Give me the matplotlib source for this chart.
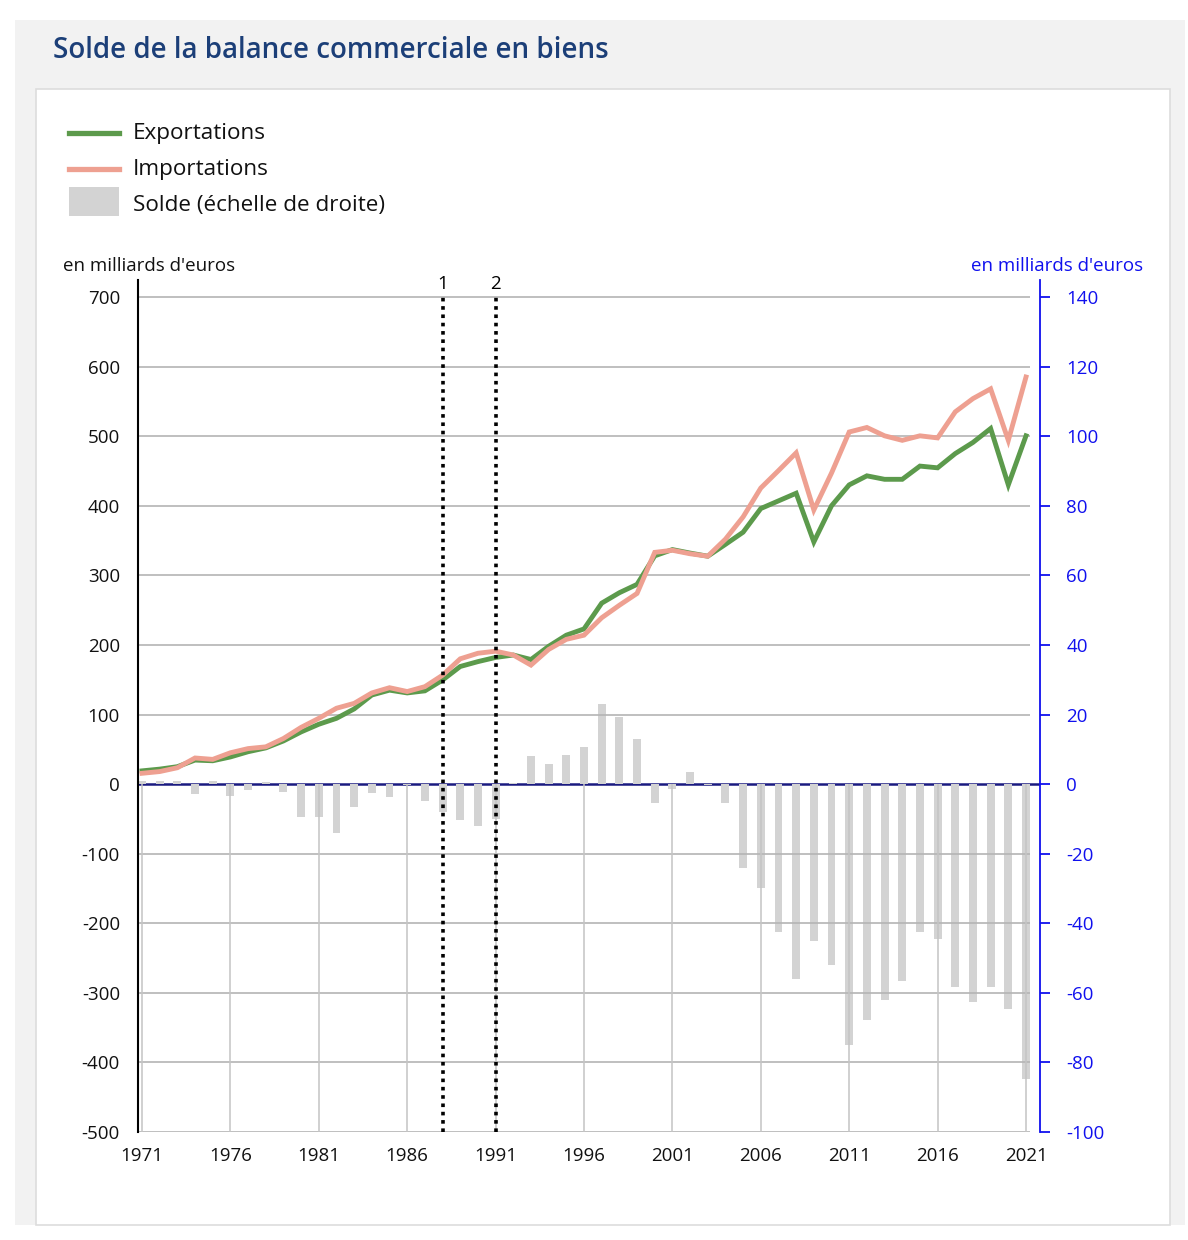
import matplotlib
matplotlib.use("Agg")
import matplotlib.pyplot as plt
from matplotlib.patches import Rectangle
from matplotlib.lines import Line2D

plt.rcParams['font.family'] = ['Open Sans', 'DejaVu Sans']
plt.rcParams['axes.unicode_minus'] = False

# ---------------- data ----------------
years = list(range(1971, 2022))
exports = [19, 21.5, 25, 34.5, 33.5, 39, 46.5, 52, 62, 75,
           86, 94.5, 108, 128, 135, 131, 134, 149.5, 169, 176,
           182, 185.5, 179, 198, 214, 223, 260, 275, 287, 328,
           337, 332, 327.5, 344.5, 362, 396, 407, 418, 348, 400,
           430, 443, 438, 438, 457, 454.5, 475, 491, 511, 430,
           500.5]
imports = [15.5, 18, 23.5, 37.5, 35.5, 45, 51, 53.5, 65.5, 81.5,
           94.5, 109, 116, 131, 138.5, 133, 140, 156.5, 180, 188,
           191, 185.5, 171, 193.5, 208, 214, 239, 257, 274, 333,
           336, 331, 327.5, 352, 384, 425.5, 450.5, 476, 394, 447,
           506, 512.5, 500.5, 494, 500.5, 497.5, 535, 554, 568, 494,
           585]
solde = [1, 1, 1, -2.9, 1, -3.4, -1.6, 0.5, -2.2, -9.4,
         -9.4, -14.2, -6.5, -2.7, -3.8, -0.2, -4.9, -8.1, -10.3, -12,
         -9.9, 0.3, 8, 5.7, 8.4, 10.7, 23, 19.2, 12.9, -5.5,
         -1.4, 3.5, -0.3, -5.5, -24, -30, -42.4, -55.9, -45, -52,
         -75, -67.9, -62, -56.5, -42.4, -44.6, -58.3, -62.6, -58.3, -64.7,
         -84.8]
series_names = ["Exportations", "Importations", "Solde (échelle de droite)"]
left_ticks = [700, 600, 500, 400, 300, 200, 100, 0, -100, -200, -300, -400, -500]
right_ticks = [140, 120, 100, 80, 60, 40, 20, 0, -20, -40, -60, -80, -100]
x_ticks = list(range(1971, 2022, 5))
events = [1988, 1991]
event_labels = ["1", "2"]
title = "Solde de la balance commerciale en biens"
unit_label = "en milliards d'euros"

# ---------------- style ----------------
GREEN = "#5c9a4c"
PINK = "#eea091"
BAR = "#d3d3d3"
BLUE = "#1010ee"
GRID = "#b4b4b4"

W, H = 1188, 1240
fig = plt.figure(figsize=(W / 100, H / 100), dpi=100)
fig.patch.set_facecolor("white")


def px(x, y):
    return (x / W, 1 - y / H)


# panels
x0, y0 = px(15, 1225)
fig.add_artist(Rectangle((x0, y0), (1185 - 15) / W, (1225 - 20) / H,
                         transform=fig.transFigure, facecolor="#f2f2f2",
                         edgecolor="none", zorder=-3))
x0, y0 = px(36, 1225)
fig.add_artist(Rectangle((x0, y0), (1170 - 36) / W, (1225 - 89) / H,
                         transform=fig.transFigure, facecolor="white",
                         edgecolor="#dddddd", lw=1.2, zorder=-2))

# title
fig.text(*px(53, 50), title, color="#1c3f78", fontsize=20,
         ha="left", va="center", fontweight="semibold")

# legend (manual)
for (yy, col) in [(133, GREEN), (169, PINK)]:
    fig.add_artist(Line2D([69 / W, 119 / W], [1 - yy / H, 1 - yy / H],
                          color=col, lw=3.8, transform=fig.transFigure))
rx, ry = px(69, 216)
fig.add_artist(Rectangle((rx, ry), 50 / W, 29 / H, transform=fig.transFigure,
                         facecolor=BAR, edgecolor="none"))
for yy, name in zip([134, 170, 205], series_names):
    fig.text(*px(133, yy), name, fontsize=16.2, ha="left", va="center",
             color="#111111")

# axes geometry
left, right = 138, 1040
top, bottom = 280, 1132
ax2 = fig.add_axes([left / W, 1 - bottom / H, (right - left) / W, (bottom - top) / H])
ax = ax2.twinx()
ax.yaxis.tick_left()
ax2.yaxis.tick_right()
ax2.set_zorder(1)
ax.set_zorder(2)
ax.patch.set_visible(False)
ax2.patch.set_visible(False)

xmin = 1971 - 4 / 17.68
xmax = xmin + (right - left) / 17.68
ymax_left = 700 + (297 - top) / 0.6958
ax.set_xlim(xmin, xmax)
ax2.set_xlim(xmin, xmax)
ax.set_ylim(-500, ymax_left)
ax2.set_ylim(-100, ymax_left / 5)

# bars (right scale)
ax2.axhline(0, color="#1a1a80", lw=1.8, zorder=1)
ax2.bar(years, solde, width=0.45, color=BAR, zorder=2)

# gridlines (zero line handled separately)
grid_end = 2021 + 4 / 17.68
ax.hlines([v for v in left_ticks if v != 0], xmin, grid_end, color=GRID, lw=1.2, zorder=1)
ax.vlines(x_ticks, -500, 0, color="#c4c4c4", lw=1.1, zorder=1)

# lines
ax.plot(years, exports, color=GREEN, lw=3.5, zorder=3, solid_joinstyle="miter")
ax.plot(years, imports, color=PINK, lw=3.5, zorder=4, solid_joinstyle="miter")

# event dotted lines
for ev, lab in zip(events, event_labels):
    ax.vlines(ev, -500, 704, color="black", lw=2.6, linestyles=(0, (1, 1.3)), zorder=5)
    ax.text(ev, 719, lab, ha="center", va="center", fontsize=13.5, color="black")

# spines
for s in ["top", "right", "bottom"]:
    ax.spines[s].set_visible(False)
ax.spines["left"].set_color("black")
ax.spines["left"].set_linewidth(1.5)
for s in ["top", "left", "bottom"]:
    ax2.spines[s].set_visible(False)
ax2.spines["right"].set_color(BLUE)
ax2.spines["right"].set_linewidth(1.3)

# ticks
ax.set_yticks(left_ticks)
ax.set_yticklabels([str(v) for v in left_ticks])
ax.tick_params(axis="y", length=0, pad=13, labelsize=13.5, labelcolor="#111111")
ax.set_xticks(x_ticks)
ax.tick_params(axis="x", length=0, labelbottom=False)
ax2.set_xticks(x_ticks)
ax2.set_xticklabels([str(v) for v in x_ticks])
ax2.tick_params(axis="x", length=0, pad=11, labelsize=13.5, labelcolor="#111111")
ax2.set_yticks(right_ticks)
ax2.set_yticklabels([str(v) for v in right_ticks])
ax2.tick_params(axis="y", length=7, width=1.3, color=BLUE, pad=12,
                labelsize=13.5, labelcolor=BLUE)

# unit labels
fig.text(*px(63, 266), unit_label, fontsize=13.5, ha="left", va="center", color="#111111")
fig.text(*px(1143, 266), unit_label, fontsize=13.5, ha="right", va="center", color=BLUE)

fig.savefig("out.png", dpi=100)
